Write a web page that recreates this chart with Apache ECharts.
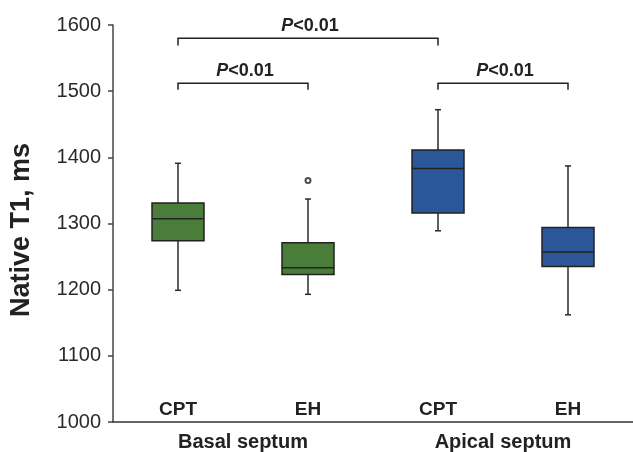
<!DOCTYPE html>
<html>
<head>
<meta charset="utf-8">
<script src="https://cdn.jsdelivr.net/npm/echarts@6/dist/echarts.min.js"></script>
<style>html,body{margin:0;padding:0;background:#fff;}#c{width:633px;height:452px;}</style>
</head>
<body>
<div id="c"></div>
<script>
const categories = ['CPT', 'EH', 'CPT', 'EH'];
const groups = ['Basal septum', 'Apical septum'];
const whiskerLow = [1199, 1193, 1289, 1162];
const q1 = [1274, 1223, 1316, 1235];
const medians = [1307, 1233, 1383, 1257];
const q3 = [1331, 1271, 1411, 1294];
const whiskerHigh = [1391, 1337, 1472, 1387];
const outliers = [[1, 1365]];
const boxColors = ['#4a7c3a', '#4a7c3a', '#2b5798', '#2b5798'];
// brackets: [fromIndex, toIndex, level, dropTo]
const brackets = [[0, 2, 1580, 1569], [0, 1, 1512, 1502], [2, 3, 1512, 1502]];
const bracketLabels = ['P<0.01', 'P<0.01', 'P<0.01'];
const yTicks = [1000, 1100, 1200, 1300, 1400, 1500, 1600];

const chart = echarts.init(document.getElementById('c'), null, {renderer: 'canvas'});
const boxData = categories.map((c, i) => [i, whiskerLow[i], q1[i], medians[i], q3[i], whiskerHigh[i]]);
const font = 'Liberation Sans, Arial, sans-serif';

chart.setOption({
  animation: false,
  grid: {left: 113, right: 0, top: 25, bottom: 28, containLabel: false},
  xAxis: [{
    type: 'category', data: categories, boundaryGap: true,
    axisLine: {lineStyle: {color: '#333', width: 1.5}},
    axisTick: {show: false},
    axisLabel: {inside: true, margin: 3, color: '#222', fontSize: 19, fontWeight: 'bold', fontFamily: font}
  }, {
    type: 'category', data: groups, position: 'bottom', boundaryGap: true,
    axisLine: {show: false}, axisTick: {show: false},
    axisLabel: {margin: 10, color: '#222', fontSize: 20, fontWeight: 'bold', fontFamily: font}
  }],
  yAxis: {
    type: 'value', min: 1000, max: 1600, interval: 100,
    axisLine: {show: true, lineStyle: {color: '#444', width: 1.5}},
    axisTick: {show: true, length: 5, lineStyle: {color: '#444', width: 1.5}},
    splitLine: {show: false},
    axisLabel: {margin: 12, color: '#2a2a2a', fontSize: 20, fontFamily: font,
      formatter: v => yTicks.includes(v) ? String(v) : ''}
  },
  graphic: [{
    type: 'text', x: 22, y: 230, rotation: Math.PI / 2,
    style: {text: 'Native T1, ms', fill: '#222', font: 'bold 27px ' + font, align: 'center', verticalAlign: 'middle'}
  }],
  series: [{
    type: 'custom',
    data: boxData,
    encode: {x: 0, y: [1, 2, 3, 4, 5]},
    renderItem: function (params, api) {
      const i = api.value(0);
      const xC = api.coord([i, 0])[0];
      const yLo = api.coord([i, api.value(1)])[1];
      const yQ1 = api.coord([i, api.value(2)])[1];
      const yMed = api.coord([i, api.value(3)])[1];
      const yQ3 = api.coord([i, api.value(4)])[1];
      const yHi = api.coord([i, api.value(5)])[1];
      const half = api.size([1, 0])[0] * 0.2;
      const cap = 3;
      const ls = {stroke: '#2a2a2a', lineWidth: 1.5};
      return {type: 'group', children: [
        {type: 'line', shape: {x1: xC, y1: yHi, x2: xC, y2: yQ3}, style: ls},
        {type: 'line', shape: {x1: xC - cap, y1: yHi, x2: xC + cap, y2: yHi}, style: ls},
        {type: 'line', shape: {x1: xC, y1: yQ1, x2: xC, y2: yLo}, style: ls},
        {type: 'line', shape: {x1: xC - cap, y1: yLo, x2: xC + cap, y2: yLo}, style: ls},
        {type: 'rect', shape: {x: xC - half, y: yQ3, width: 2 * half, height: yQ1 - yQ3},
          style: {fill: boxColors[i], stroke: '#222', lineWidth: 1.5}},
        {type: 'line', shape: {x1: xC - half, y1: yMed, x2: xC + half, y2: yMed}, style: {stroke: '#222', lineWidth: 1.5}}
      ]};
    }
  }, {
    type: 'scatter', data: outliers, symbol: 'emptyCircle', symbolSize: 5,
    itemStyle: {color: '#222', borderColor: '#222', borderWidth: 1.2}
  }, {
    type: 'custom',
    data: brackets,
    encode: {x: [0, 1], y: [2, 3]},
    renderItem: function (params, api) {
      const a = api.value(0), b = api.value(1);
      const p1 = api.coord([a, api.value(2)]);
      const p2 = api.coord([b, api.value(2)]);
      const yd = api.coord([a, api.value(3)])[1];
      const ls = {stroke: '#222', lineWidth: 1.5, fill: null};
      const txt = bracketLabels[params.dataIndex];
      return {type: 'group', children: [
        {type: 'polyline', shape: {points: [[p1[0], yd], [p1[0], p1[1]], [p2[0], p2[1]], [p2[0], yd]]}, style: ls},
        {type: 'text', x: (p1[0] + p2[0]) / 2 + 2, y: p1[1] - 3,
          style: {text: '{i|' + txt.charAt(0) + '}{n|' + txt.slice(1) + '}', align: 'center', verticalAlign: 'bottom',
            rich: {
              i: {font: 'italic bold 18px ' + font, fill: '#222'},
              n: {font: 'bold 18px ' + font, fill: '#222'}
            }}}
      ]};
    }
  }]
});
</script>
</body>
</html>
